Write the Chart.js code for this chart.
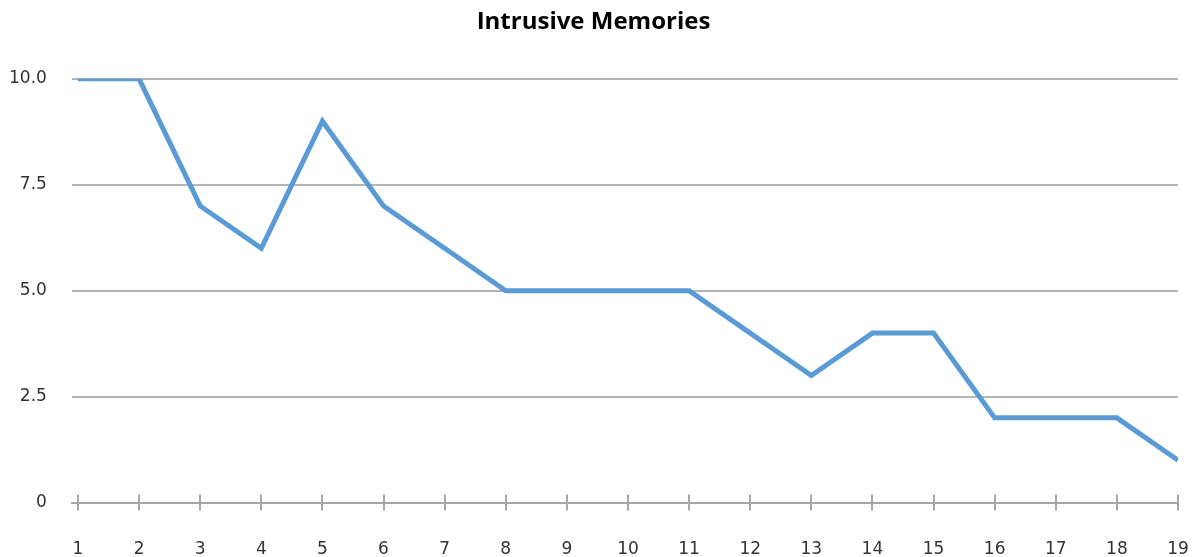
<!DOCTYPE html>
<html>
<head>
<meta charset="utf-8">
<script src="https://cdn.jsdelivr.net/npm/chart.js@4/dist/chart.umd.min.js"></script>
<style>
  html, body { margin: 0; padding: 0; background: #fff; overflow: hidden; }
  #wrap { width: 1193px; height: 557px; }
  canvas { display: block; }
</style>
</head>
<body>
<div id="wrap"><canvas id="chart"></canvas></div>
<script>
// datos del gráfico
const days = [1, 2, 3, 4, 5, 6, 7, 8, 9, 10, 11, 12, 13, 14, 15, 16, 17, 18, 19];
const memories = [10, 10, 7, 6, 9, 7, 6, 5, 5, 5, 5, 4, 3, 4, 4, 2, 2, 2, 1];
const yTicks = [0, 2.5, 5, 7.5, 10];

// marcas que cruzan el eje x (arriba y abajo)
const crossTicks = {
  id: 'crossTicks',
  afterDatasetsDraw(chart) {
    const { ctx, scales: { x, y } } = chart;
    const y0 = y.getPixelForValue(0);
    ctx.save();
    ctx.strokeStyle = '#a6a6a6';
    ctx.lineWidth = 2;
    ctx.beginPath();
    days.forEach(d => {
      const px = Math.round(x.getPixelForValue(d));
      ctx.moveTo(px, y0 - 8);
      ctx.lineTo(px, y0 + 8);
    });
    ctx.stroke();
    ctx.restore();
  }
};

new Chart(document.getElementById('chart'), {
  type: 'line',
  data: {
    datasets: [{
      label: 'Intrusive Memories',
      data: days.map((d, i) => ({ x: d, y: memories[i] })),
      borderColor: '#5b9bd5',
      borderWidth: 5,
      pointRadius: 0,
      tension: 0,
      borderJoinStyle: 'miter',
    }]
  },
  options: {
    responsive: true,
    maintainAspectRatio: false,
    animation: false,
    layout: { padding: { left: 9, right: 15, top: 0, bottom: -3 } },
    plugins: {
      legend: { display: false },
      tooltip: { enabled: false },
      title: {
        display: true,
        text: 'Intrusive Memories',
        color: '#000',
        font: { family: 'Open Sans', size: 24, weight: 'bold' },
        padding: { top: 8, bottom: 42 },
      },
    },
    scales: {
      x: {
        type: 'linear',
        min: 0.9,
        max: 19,
        afterBuildTicks: (scale) => { scale.ticks = days.map(v => ({ value: v })); },
        grid: { display: true, drawOnChartArea: false, tickLength: 37, tickColor: 'rgba(0,0,0,0)' },
        border: { display: true, color: '#a6a6a6', width: 2 },
        ticks: {
          color: '#333',
          font: { family: 'DejaVu Sans', size: 17 },
          padding: 0,
          maxRotation: 0,
          autoSkip: false,
        },
      },
      y: {
        min: 0,
        max: 10,
        afterBuildTicks: (scale) => { scale.ticks = yTicks.map(v => ({ value: v })); },
        grid: { color: '#b5b5b5', lineWidth: 2, drawTicks: true, tickLength: 25, tickColor: 'rgba(0,0,0,0)' },
        border: { display: false },
        ticks: {
          color: '#333',
          font: { family: 'DejaVu Sans', size: 17 },
          padding: 0,
          callback: (v) => v === 0 ? '0' : Number(v).toFixed(1),
        },
      },
    },
  },
  plugins: [crossTicks],
});
</script>
</body>
</html>
